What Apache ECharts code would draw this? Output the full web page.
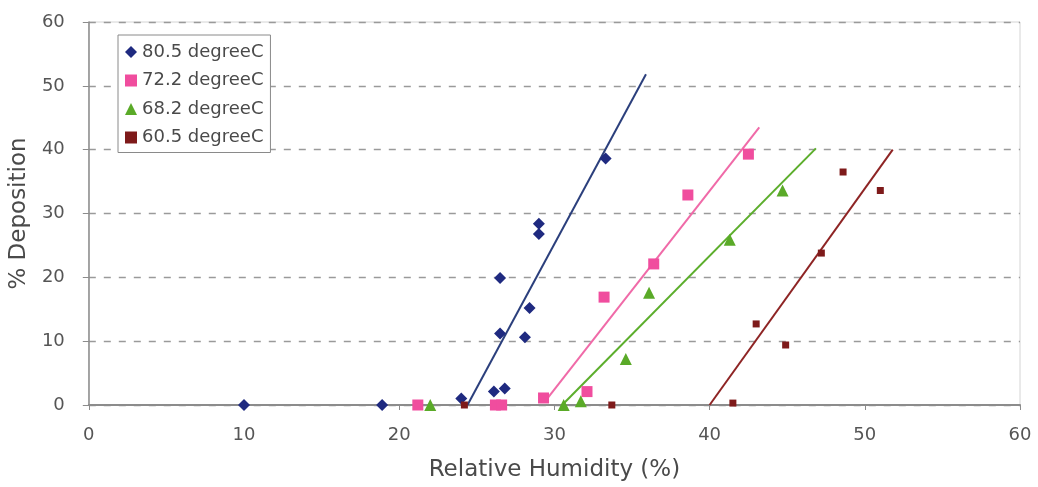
<!DOCTYPE html>
<html>
<head>
<meta charset="utf-8">
<script src="https://cdn.jsdelivr.net/npm/echarts@6/dist/echarts.min.js"></script>
<style>
html,body{margin:0;padding:0;background:#fff;}
#chart{width:1038px;height:487px;}
</style>
</head>
<body>
<div id="chart"></div>
<script>
// Series names
const seriesNames = ['80.5 degreeC', '72.2 degreeC', '68.2 degreeC', '60.5 degreeC'];

// Measured points (Relative Humidity %, % Deposition)
const rh805 = [10.0, 18.9, 24.0, 26.1, 26.8, 26.5, 28.1, 28.4, 26.5, 29.0, 29.0, 33.3];
const dep805 = [0, 0, 1.0, 2.1, 2.6, 11.2, 10.6, 15.2, 19.9, 26.8, 28.4, 38.6];

const rh722 = [21.2, 26.2, 26.6, 29.3, 32.1, 33.2, 36.4, 38.6, 42.5];
const dep722 = [0, 0, 0, 1.1, 2.1, 16.9, 22.1, 32.9, 39.3];

const rh682 = [22.0, 30.6, 31.7, 34.6, 36.1, 41.3, 44.7];
const dep682 = [0, 0, 0.6, 7.2, 17.6, 25.9, 33.6];

const rh605 = [24.2, 33.7, 41.5, 43.0, 44.9, 47.2, 48.6, 51.0];
const dep605 = [0, 0, 0.3, 12.7, 9.4, 23.8, 36.5, 33.6];

// Trend line end points
const trendRh805 = [24.4, 35.9];
const trendDep805 = [0, 51.8];
const trendRh722 = [29.6, 43.2];
const trendDep722 = [1.2, 43.5];
const trendRh682 = [30.5, 46.85];
const trendDep682 = [0, 40.2];
const trendRh605 = [40.0, 51.8];
const trendDep605 = [0, 40.0];

// Axis ticks
const xTicks = [0, 10, 20, 30, 40, 50, 60];
const yTicks = [0, 10, 20, 30, 40, 50, 60];

const pts = (xs, ys) => xs.map((x, i) => [x, ys[i]]);

const colors = {
  m805: '#1f2a80', l805: '#2b3f7c',
  m722: '#f04d9e', l722: '#f06aa8',
  m682: '#5aaa28', l682: '#5cae2c',
  m605: '#7e1a1a', l605: '#8e2424'
};

const FONT = 'DejaVu Sans';

const option = {
  backgroundColor: '#ffffff',
  animation: false,
  textStyle: { fontFamily: FONT },
  grid: {
    left: 88, right: 18, top: 22, bottom: 82,
    show: true, borderColor: '#d4d4d4', borderWidth: 1, backgroundColor: 'transparent'
  },
  legend: {
    orient: 'vertical',
    left: 118, top: 35,
    data: seriesNames,
    backgroundColor: '#fff',
    borderColor: '#8a8a8a', borderWidth: 1,
    padding: [8, 7, 6, 7],
    itemGap: 10.5,
    itemWidth: 12, itemHeight: 12,
    textStyle: { fontFamily: FONT, fontSize: 18, lineHeight: 18, color: '#4a4a4a' }
  },
  xAxis: {
    type: 'value',
    min: xTicks[0], max: xTicks[xTicks.length - 1], interval: 10,
    name: 'Relative Humidity (%)',
    nameLocation: 'middle', nameGap: 54,
    nameTextStyle: { fontFamily: FONT, fontSize: 23, color: '#4a4a4a' },
    axisLine: { show: true, lineStyle: { color: '#8c8c8c', width: 2 } },
    axisTick: { show: true, length: 5, lineStyle: { color: '#8c8c8c' } },
    axisLabel: { fontFamily: FONT, fontSize: 18, color: '#555', margin: 21 },
    splitLine: { show: false }
  },
  yAxis: {
    type: 'value',
    min: yTicks[0], max: yTicks[yTicks.length - 1], interval: 10,
    name: '% Deposition',
    nameLocation: 'middle', nameGap: 54, nameRotate: 90,
    nameTextStyle: { fontFamily: FONT, fontSize: 23, color: '#4a4a4a' },
    axisLine: { show: true, lineStyle: { color: '#8c8c8c', width: 1.5 } },
    axisTick: { show: true, length: 6, lineStyle: { color: '#8c8c8c' } },
    axisLabel: { fontFamily: FONT, fontSize: 18, color: '#555', margin: 24 },
    splitLine: { show: true, lineStyle: { color: '#9a9a9a', type: [7, 8], width: 1.3 } }
  },
  series: [
    { name: 'trend805', type: 'line', data: pts(trendRh805, trendDep805), symbol: 'none', lineStyle: { color: colors.l805, width: 2 }, z: 2, silent: true },
    { name: 'trend722', type: 'line', data: pts(trendRh722, trendDep722), symbol: 'none', lineStyle: { color: colors.l722, width: 2 }, z: 2, silent: true },
    { name: 'trend682', type: 'line', data: pts(trendRh682, trendDep682), symbol: 'none', lineStyle: { color: colors.l682, width: 2 }, z: 2, silent: true },
    { name: 'trend605', type: 'line', data: pts(trendRh605, trendDep605), symbol: 'none', lineStyle: { color: colors.l605, width: 2 }, z: 2, silent: true },
    { name: seriesNames[0], type: 'scatter', data: pts(rh805, dep805), symbol: 'diamond', symbolSize: 12, itemStyle: { color: colors.m805, opacity: 1 }, z: 3 },
    { name: seriesNames[1], type: 'scatter', data: pts(rh722, dep722), symbol: 'rect', symbolSize: 11, itemStyle: { color: colors.m722, opacity: 1 }, z: 3 },
    { name: seriesNames[2], type: 'scatter', data: pts(rh682, dep682), symbol: 'triangle', symbolSize: 12, itemStyle: { color: colors.m682, opacity: 1 }, z: 3 },
    { name: seriesNames[3], type: 'scatter', data: pts(rh605, dep605), symbol: 'rect', symbolSize: 7, itemStyle: { color: colors.m605, opacity: 1 }, z: 3 }
  ]
};

const chart = echarts.init(document.getElementById('chart'), null, { renderer: 'canvas' });
chart.setOption(option);
</script>
</body>
</html>
